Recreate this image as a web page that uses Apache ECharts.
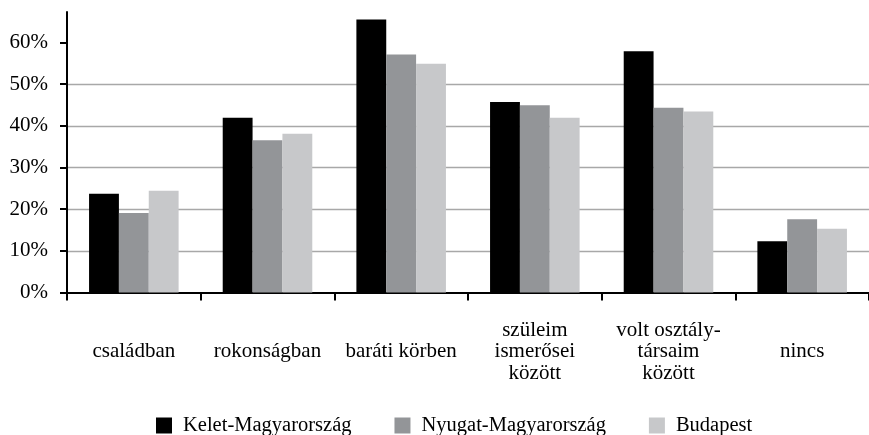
<!DOCTYPE html>
<html>
<head>
<meta charset="utf-8">
<script src="https://cdn.jsdelivr.net/npm/echarts@6/dist/echarts.min.js"></script>
<style>
html,body{margin:0;padding:0;background:#fff;}
#chart{width:869px;height:435px;}
</style>
</head>
<body>
<div id="chart"></div>
<script>
const categories = ['családban', 'rokonságban', 'baráti körben', 'szüleim\nismerősei\nközött', 'volt osztály-\ntársaim\nközött', 'nincs'];
const seriesNames = ['Kelet-Magyarország', 'Nyugat-Magyarország', 'Budapest'];
const keletValues = [23.7, 41.9, 65.5, 45.7, 57.9, 12.3];
const nyugatValues = [19.1, 36.5, 57.1, 44.9, 44.3, 17.6];
const budapestValues = [24.4, 38.1, 54.9, 41.9, 43.4, 15.3];
const yTicks = [0, 10, 20, 30, 40, 50, 60];
const colors = ['#000000', '#939598', '#c7c8ca'];

const font = 'Liberation Serif';
const chart = echarts.init(document.getElementById('chart'), null, {renderer: 'canvas'});
const allValues = [keletValues, nyugatValues, budapestValues];

chart.setOption({
  animation: false,
  backgroundColor: '#ffffff',
  grid: {left: 67, right: -14, top: 12, bottom: 142.5, containLabel: false},
  legend: {
    data: seriesNames.map(n => ({name: n, icon: 'rect'})),
    left: 151,
    top: 410,
    itemWidth: 16,
    itemHeight: 16,
    itemGap: 43,
    textStyle: {fontFamily: font, fontSize: 20.5, color: '#000', padding: [0, 0, 0, 6]}
  },
  xAxis: {
    type: 'category',
    data: categories,
    axisLine: {show: true, lineStyle: {color: '#000', width: 2}},
    axisTick: {show: true, alignWithLabel: false, length: 8, lineStyle: {color: '#000', width: 2}},
    axisLabel: {
      interval: 0,
      fontFamily: font,
      fontSize: 21,
      lineHeight: 21.5,
      color: '#000',
      verticalAlign: 'middle',
      margin: 59
    },
    splitLine: {show: false}
  },
  yAxis: {
    type: 'value',
    min: 0,
    max: 67.3,
    interval: 10,
    axisLine: {show: true, lineStyle: {color: '#000', width: 2}},
    axisTick: {show: true, length: 7, customValues: yTicks, lineStyle: {color: '#000', width: 2}},
    axisLabel: {
      customValues: yTicks,
      formatter: '{value}%',
      fontFamily: font,
      fontSize: 21,
      color: '#000',
      margin: 19
    },
    splitLine: {show: true, showMinLine: false, showMaxLine: false, lineStyle: {color: '#a8a8a8', width: 1.3}}
  },
  series: seriesNames.map((name, i) => ({
    name: name,
    type: 'bar',
    data: allValues[i],
    barGap: '0%',
    barCategoryGap: '33%',
    itemStyle: {color: colors[i]}
  }))
});
</script>
</body>
</html>
